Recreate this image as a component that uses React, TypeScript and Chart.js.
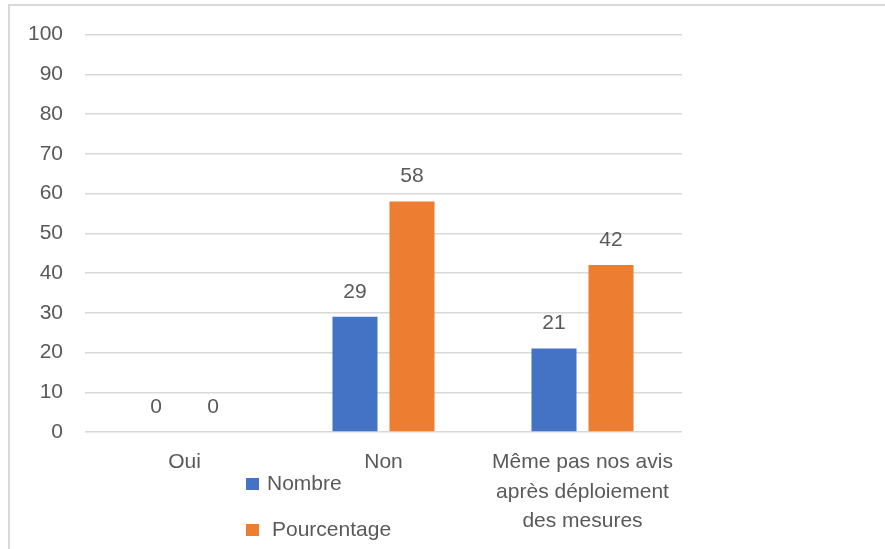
import React, { useEffect, useRef } from "react";
import { Chart, registerables } from "chart.js";

Chart.register(...registerables);

const categories: (string | string[])[] = [
  "Oui",
  "Non",
  ["Même pas nos avis", "après déploiement", "des mesures"],
];
const nombre = [0, 29, 21];
const pourcentage = [0, 58, 42];
const seriesNames = ["Nombre", "Pourcentage"];
const colors = ["#4472C4", "#ED7D31"];

const FONT = "'Liberation Sans', Arial, sans-serif";
const TEXT = "#595959";

const framePlugin = {
  id: "frame",
  beforeDraw(chart: any) {
    const ctx = chart.ctx;
    ctx.save();
    ctx.fillStyle = "#ffffff";
    ctx.fillRect(0, 0, chart.width, chart.height);
    ctx.strokeStyle = "#d9d9d9";
    ctx.lineWidth = 2;
    ctx.beginPath();
    ctx.moveTo(9, chart.height + 2);
    ctx.lineTo(9, 5);
    ctx.lineTo(chart.width + 2, 5);
    ctx.stroke();
    ctx.restore();
  },
};

const labelPlugin = {
  id: "valueLabels",
  afterDatasetsDraw(chart: any) {
    const ctx = chart.ctx;
    ctx.save();
    ctx.font = `21px ${FONT}`;
    ctx.fillStyle = TEXT;
    ctx.textAlign = "center";
    ctx.textBaseline = "middle";
    chart.data.datasets.forEach((ds: any, i: number) => {
      const meta = chart.getDatasetMeta(i);
      meta.data.forEach((el: any, j: number) => {
        ctx.fillText(String(ds.data[j]), el.x, el.y - 25);
      });
    });
    ctx.restore();
  },
};

const legendPlugin = {
  id: "customLegend",
  afterDraw(chart: any) {
    const ctx = chart.ctx;
    const a = chart.chartArea;
    ctx.save();
    ctx.font = `21px ${FONT}`;
    ctx.fillStyle = TEXT;
    ctx.textBaseline = "middle";
    ctx.textAlign = "left";
    const items = [
      { dy: 52, tx: 21 },
      { dy: 98, tx: 26 },
    ];
    items.forEach((it, i) => {
      const x = a.left + 161;
      const y = a.bottom + it.dy;
      ctx.fillStyle = colors[i];
      ctx.fillRect(x, y - 6, 13, 12);
      ctx.fillStyle = TEXT;
      ctx.fillText(seriesNames[i], x + it.tx, y);
    });
    ctx.restore();
  },
};

export default function App() {
  const ref = useRef<HTMLCanvasElement>(null);
  useEffect(() => {
    if (!ref.current) return;
    const chart = new Chart(ref.current, {
      type: "bar",
      data: {
        labels: categories,
        datasets: [
          {
            label: seriesNames[0],
            data: nombre,
            backgroundColor: colors[0],
            categoryPercentage: 0.573,
            barPercentage: 0.79,
          },
          {
            label: seriesNames[1],
            data: pourcentage,
            backgroundColor: colors[1],
            categoryPercentage: 0.573,
            barPercentage: 0.79,
          },
        ],
      },
      options: {
        responsive: false,
        animation: false,
        layout: { padding: { left: 0, right: 203, top: 33, bottom: 0 } },
        plugins: {
          legend: { display: false },
          tooltip: { enabled: false },
        },
        scales: {
          x: {
            grid: { display: false, drawTicks: false },
            border: { display: false },
            ticks: {
              color: TEXT,
              font: { family: FONT, size: 21, lineHeight: 1.4 },
              padding: 16,
              maxRotation: 0,
              autoSkip: false,
            },
            afterFit(s: any) {
              s.height = 117;
            },
          },
          y: {
            min: 0,
            max: 100,
            grid: { color: "#d9d9d9", lineWidth: 1.5, drawTicks: false },
            border: { display: false },
            ticks: {
              stepSize: 10,
              color: TEXT,
              font: { family: FONT, size: 21 },
              padding: 22,
            },
            afterFit(s: any) {
              s.width = 85;
            },
          },
        },
      },
      plugins: [framePlugin, labelPlugin, legendPlugin],
    });
    return () => chart.destroy();
  }, []);
  return (
    <div style={{ position: "fixed", left: 0, top: 0, width: 885, height: 549 }}>
      <canvas ref={ref} width={885} height={549} style={{ display: "block" }} />
    </div>
  );
}
